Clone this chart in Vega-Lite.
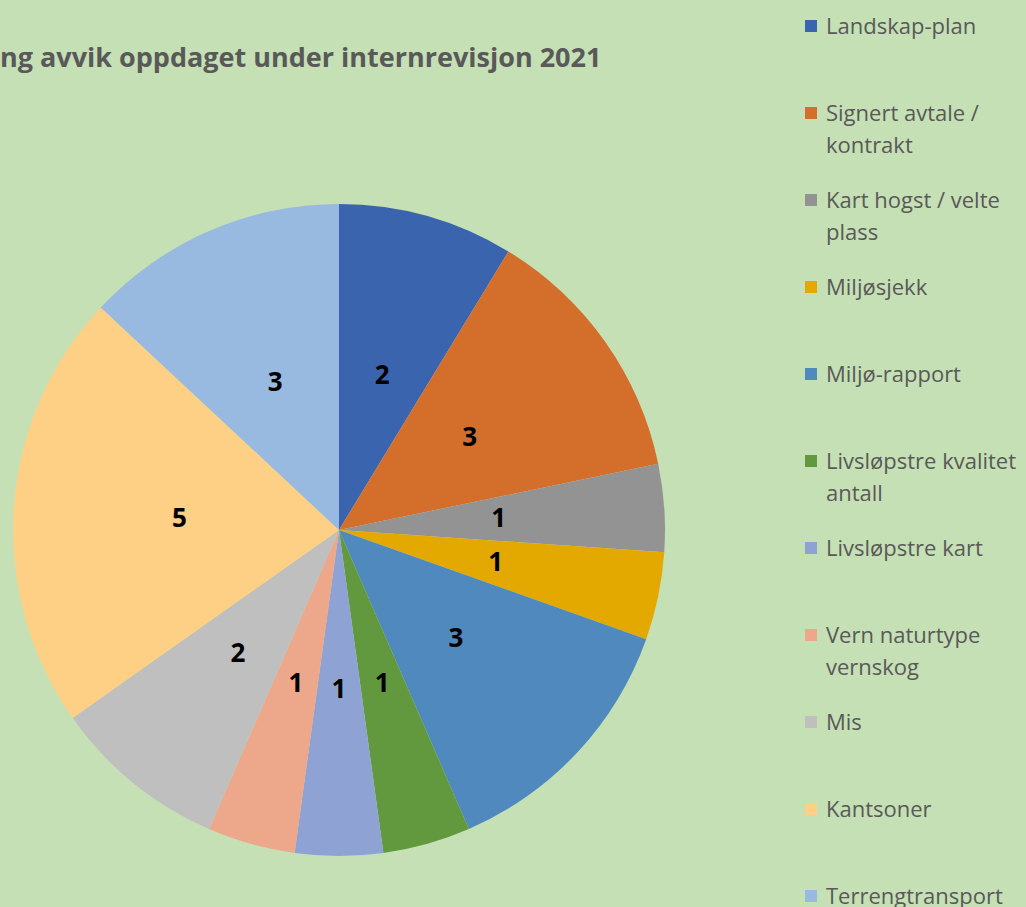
{
  "$schema": "https://vega.github.io/schema/vega-lite/v6.json",
  "width": 678,
  "height": 754,
  "autosize": "none",
  "padding": {"left": 0, "top": 153, "right": 348, "bottom": 0},
  "background": "#c5e0b4",
  "config": {"view": {"stroke": null}},
  "title": {
    "text": "ng avvik oppdaget under internrevisjon 2021",
    "anchor": "start",
    "frame": "group",
    "font": "Open Sans",
    "fontSize": 27,
    "fontWeight": "bold",
    "color": "#595959",
    "baseline": "alphabetic",
    "offset": -79
  },
  "data": {
    "values": [
      {"kategori": "Landskap-plan", "antall": 2, "rekkefolge": 1},
      {"kategori": "Signert avtale / kontrakt", "antall": 3, "rekkefolge": 2},
      {"kategori": "Kart hogst / velte plass", "antall": 1, "rekkefolge": 3},
      {"kategori": "Miljøsjekk", "antall": 1, "rekkefolge": 4},
      {"kategori": "Miljø-rapport", "antall": 3, "rekkefolge": 5},
      {"kategori": "Livsløpstre kvalitet antall", "antall": 1, "rekkefolge": 6},
      {"kategori": "Livsløpstre kart", "antall": 1, "rekkefolge": 7},
      {"kategori": "Vern naturtype vernskog", "antall": 1, "rekkefolge": 8},
      {"kategori": "Mis", "antall": 2, "rekkefolge": 9},
      {"kategori": "Kantsoner", "antall": 5, "rekkefolge": 10},
      {"kategori": "Terrengtransport", "antall": 3, "rekkefolge": 11}
    ]
  },
  "layer": [
    {
      "mark": {"type": "arc", "outerRadius": 326},
      "encoding": {
        "theta": {"field": "antall", "type": "quantitative", "stack": true},
        "order": {"field": "rekkefolge", "type": "quantitative"},
        "color": {
          "field": "kategori",
          "type": "nominal",
          "sort": null,
          "scale": {
            "domain": ["Landskap-plan", "Signert avtale / kontrakt", "Kart hogst / velte plass", "Miljøsjekk", "Miljø-rapport", "Livsløpstre kvalitet antall", "Livsløpstre kart", "Vern naturtype vernskog", "Mis", "Kantsoner", "Terrengtransport"],
            "range": ["#3b64ae", "#d36e2b", "#939393", "#e3a900", "#4f89be", "#62993e", "#8fa2d4", "#eda78a", "#bfbfbf", "#fdd085", "#98bae0"]
          },
          "legend": {
            "orient": "none",
            "legendX": 800,
            "legendY": -138,
            "title": null,
            "symbolType": "square",
            "symbolSize": 144,
            "symbolStrokeWidth": 0,
            "symbolOpacity": 1,
            "labelFont": "Open Sans",
            "labelFontSize": 22,
            "labelColor": "#595959",
            "labelOffset": 4,
            "labelLimit": 400,
            "labelBaseline": "alphabetic",
            "rowPadding": 32,
            "labelExpr": "datum.label == 'Signert avtale / kontrakt' ? ['Signert avtale /', 'kontrakt'] : datum.label == 'Kart hogst / velte plass' ? ['Kart hogst / velte', 'plass'] : datum.label == 'Livsløpstre kvalitet antall' ? ['Livsløpstre kvalitet', 'antall'] : datum.label == 'Vern naturtype vernskog' ? ['Vern naturtype', 'vernskog'] : [datum.label, ' ']",
            "encode": {
              "labels": {"update": {"dy": {"value": 8}, "lineHeight": {"value": 32}}}
            }
          }
        }
      }
    },
    {
      "mark": {"type": "text", "radius": 160, "font": "Open Sans", "fontSize": 26, "fontWeight": "bold", "color": "#000000"},
      "encoding": {
        "theta": {"field": "antall", "type": "quantitative", "stack": true},
        "order": {"field": "rekkefolge", "type": "quantitative"},
        "text": {"field": "antall", "type": "quantitative"}
      }
    }
  ]
}
